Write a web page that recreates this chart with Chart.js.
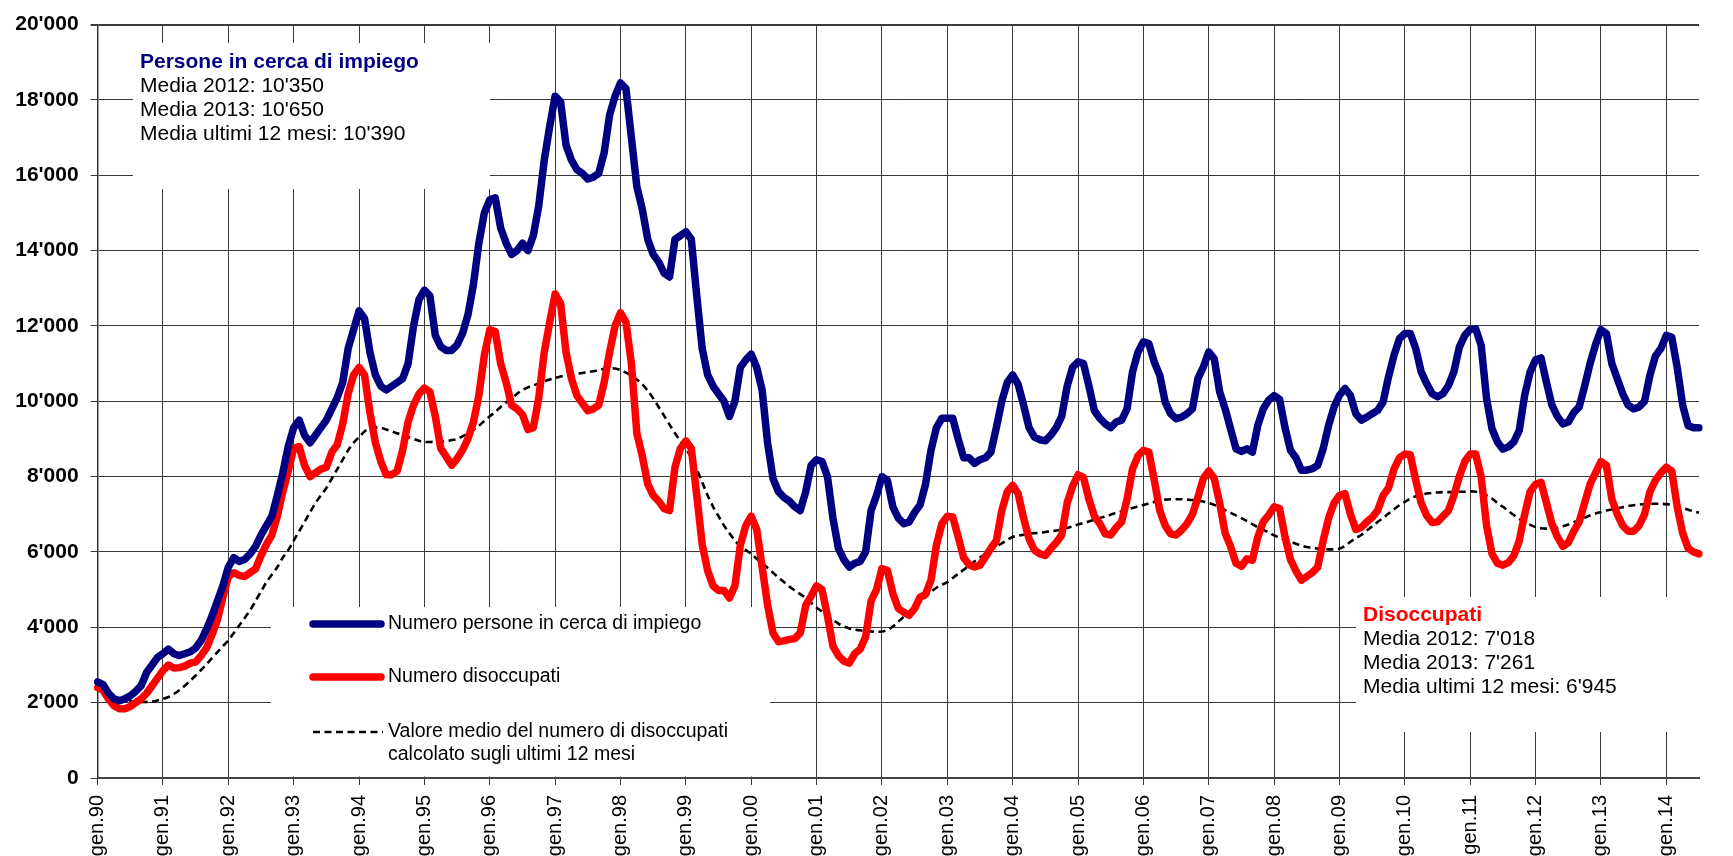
<!DOCTYPE html>
<html lang="it">
<head>
  <meta charset="UTF-8" />
  <title>Persone in cerca di impiego e disoccupati</title>
  <style>
    html, body { margin: 0; padding: 0; background: #fff; }
    #chart { display: block; }
  </style>
</head>
<body>
  <canvas id="chart" width="1733" height="856"></canvas>

  <script src="https://cdn.jsdelivr.net/npm/chart.js"></script>
  <script>
    // mesi e anni per le etichette dell'asse x
    const mesi = ['gen', 'feb', 'mar', 'apr', 'mag', 'giu', 'lug', 'ago', 'set', 'ott', 'nov', 'dic'];
    const primoAnno = 1990;

    // Numero persone in cerca di impiego (una riga per anno, gen-dic)
    const persone = [
      2550, 2480, 2250, 2100, 2050, 2100, 2180, 2300, 2450, 2800, 3000, 3200,
      3300, 3420, 3300, 3250, 3300, 3350, 3450, 3650, 3950, 4300, 4700, 5100,
      5600, 5850, 5750, 5800, 5950, 6150, 6450, 6700, 6950, 7500, 8100, 8800,
      9300, 9500, 9100, 8900, 9100, 9300, 9500, 9800, 10100, 10500, 11400, 11900,
      12400, 12200, 11300, 10700, 10400, 10300, 10400, 10500, 10600, 11000, 12000, 12700,
      12950, 12800, 11750, 11450, 11350, 11350, 11500, 11800, 12300, 13100, 14200, 15000,
      15350, 15400, 14600, 14200, 13900, 14000, 14200, 14000, 14400, 15200, 16400, 17300,
      18100, 17950, 16800, 16400, 16150, 16050, 15900, 15950, 16050, 16600, 17600, 18100,
      18450, 18300, 17000, 15700, 15100, 14300, 13900, 13700, 13400, 13300, 14300, 14400,
      14500, 14300, 12800, 11400, 10700, 10400, 10200, 10000, 9600, 10000, 10900, 11100,
      11250, 10900, 10300, 8900, 7950, 7600, 7450, 7350, 7200, 7100, 7600, 8300,
      8450, 8400, 8000, 6900, 6100, 5800, 5600, 5700, 5750, 6000, 7100, 7500,
      8000, 7900, 7200, 6900, 6750, 6800, 7050, 7250, 7800, 8700, 9300, 9550,
      9550, 9550, 9000, 8500, 8500, 8350, 8450, 8500, 8650, 9300, 10000, 10500,
      10700, 10450, 9900, 9300, 9050, 8980, 8950, 9100, 9300, 9600, 10400, 10900,
      11050, 11000, 10400, 9750, 9550, 9400, 9300, 9450, 9500, 9800, 10780, 11300,
      11580, 11530, 11040, 10690, 9980, 9670, 9540, 9580, 9670, 9800, 10600, 10910,
      11310, 11130, 10250, 9800, 9270, 8740, 8670, 8740, 8650, 9360, 9800, 10030,
      10150, 10050, 9300, 8700, 8500, 8170, 8170, 8210, 8300, 8740, 9360, 9850,
      10160, 10340, 10160, 9670, 9500, 9580, 9670, 9760, 9980, 10650, 11220, 11660,
      11800, 11800, 11400, 10780, 10470, 10200, 10120, 10200, 10420, 10780, 11440, 11750,
      11910, 11930, 11490, 10070, 9270, 8920, 8730, 8790, 8920, 9230, 10160, 10780,
      11100, 11150, 10500, 9900, 9600, 9400, 9450, 9700, 9850, 10400, 11000, 11500,
      11900, 11800, 11000, 10600, 10200, 9900, 9800, 9850, 10000, 10700, 11200, 11400,
      11750, 11700, 10900, 9900, 9350, 9300, 9300
    ];

    // Numero disoccupati
    const disoccupati = [
      2400, 2330, 2100, 1920, 1840, 1840, 1900, 2000, 2100, 2250, 2450, 2650,
      2850, 3000, 2920, 2930, 2970, 3050, 3080, 3250, 3450, 3800, 4200, 4800,
      5350, 5450, 5380, 5350, 5450, 5550, 5900, 6200, 6450, 6950, 7600, 8150,
      8750, 8800, 8300, 8000, 8100, 8200, 8250, 8650, 8850, 9400, 10200, 10700,
      10900, 10700, 9700, 8900, 8400, 8050, 8050, 8150, 8700, 9450, 9900, 10200,
      10350, 10250, 9600, 8750, 8530, 8300, 8480, 8700, 9010, 9450, 10160, 11220,
      11900, 11850, 11000, 10500, 9900, 9800, 9650, 9250, 9300, 10100, 11300, 12100,
      12850, 12600, 11300, 10600, 10150, 9950, 9750, 9800, 9900, 10500, 11300, 12000,
      12350, 12100, 11000, 9150, 8550, 7800, 7500, 7350, 7150, 7100, 8250, 8750,
      8950, 8750, 7500, 6200, 5500, 5100, 4980, 4980, 4780, 5100, 6180, 6700,
      6950, 6600, 5600, 4600, 3850, 3620, 3640, 3680, 3700, 3850, 4580, 4830,
      5100, 5000, 4300, 3500, 3250, 3100, 3050, 3300, 3420, 3750, 4700, 5000,
      5560, 5510, 4900, 4500, 4400, 4320, 4500, 4800, 4880, 5250, 6180, 6750,
      6950, 6930, 6400, 5850, 5660, 5600, 5650, 5870, 6100, 6300, 7100, 7600,
      7770, 7550, 6900, 6350, 6050, 5950, 5910, 6090, 6250, 6450, 7300, 7750,
      8050, 7980, 7400, 6950, 6750, 6480, 6450, 6650, 6800, 7400, 8200, 8550,
      8700, 8650, 7900, 7100, 6700, 6480, 6450, 6580, 6750, 7000, 7450, 7950,
      8150, 7950, 7300, 6500, 6150, 5700, 5620, 5820, 5780, 6400, 6800, 6980,
      7200, 7150, 6400, 5800, 5500, 5250, 5350, 5450, 5600, 6300, 6900, 7300,
      7500, 7550, 7000, 6600, 6650, 6800, 6920, 7100, 7500, 7700, 8200, 8500,
      8600, 8580, 7900, 7300, 6970, 6780, 6800, 6950, 7100, 7500, 8000, 8400,
      8600, 8600, 8000, 6700, 5950, 5700, 5650, 5720, 5900, 6300, 7000, 7600,
      7800, 7850, 7300, 6750, 6400, 6150, 6250, 6550, 6800, 7300, 7800, 8100,
      8400, 8300, 7400, 7000, 6700, 6550, 6550, 6700, 7000, 7600, 7900, 8100,
      8250, 8150, 7200, 6500, 6100, 6000, 5950
    ];

    // Valore medio del numero di disoccupati sugli ultimi 12 mesi
    const mediaMobile = [
      2400, 2320, 2250, 2180, 2120, 2080, 2040, 2020, 2020, 2020, 2030, 2060,
      2100, 2150, 2230, 2330, 2450, 2580, 2720, 2870, 3020, 3180, 3340, 3500,
      3650, 3850, 4050, 4250, 4450, 4700, 4950, 5200, 5400, 5600, 5850, 6050,
      6300, 6550, 6800, 7050, 7300, 7500, 7700, 7950, 8200, 8450, 8700, 8900,
      9050, 9200, 9280, 9300, 9300, 9250, 9200, 9150, 9100, 9050, 9000, 8950,
      8920, 8920, 8930, 8930, 8940, 8970, 9000, 9070, 9150, 9250, 9350, 9480,
      9600, 9720, 9850, 9970, 10070, 10200, 10300, 10370, 10420, 10480, 10530, 10580,
      10620, 10660, 10690, 10710, 10730, 10750, 10780, 10800, 10830, 10860, 10870, 10870,
      10830, 10760, 10690, 10580, 10450, 10280, 10080, 9850, 9620, 9380, 9150, 8950,
      8750, 8500, 8200, 7850, 7500, 7200, 6950, 6700, 6500, 6300, 6150, 6050,
      5950, 5820, 5700, 5580, 5450, 5320, 5200, 5080, 4980, 4880, 4780, 4650,
      4520, 4420, 4300, 4200, 4100, 4020, 3970, 3940, 3920, 3900, 3890, 3880,
      3890, 3930, 4020, 4150, 4280, 4410, 4540, 4670, 4800, 4940, 5050, 5130,
      5200, 5310, 5420, 5530, 5640, 5750, 5850, 5950, 6050, 6140, 6230, 6320,
      6400, 6430, 6460, 6490, 6500, 6510, 6530, 6550, 6570, 6600, 6640, 6680,
      6730, 6770, 6810, 6860, 6900, 6940, 6990, 7040, 7080, 7130, 7170, 7210,
      7250, 7290, 7330, 7360, 7390, 7400, 7400, 7400, 7390, 7380, 7360, 7340,
      7300, 7250, 7190, 7110, 7040, 6970, 6900, 6820, 6740, 6660, 6590, 6520,
      6440, 6380, 6320, 6270, 6220, 6170, 6130, 6110, 6090, 6080, 6070, 6070,
      6090, 6160, 6270, 6370, 6450, 6570, 6680, 6800, 6900, 7020, 7130, 7240,
      7330, 7420, 7480, 7520, 7550, 7570, 7580, 7590, 7590, 7590, 7600, 7600,
      7610, 7600, 7590, 7500, 7420, 7300, 7200, 7090, 6980, 6880, 6790, 6720,
      6660, 6630, 6620, 6620, 6640, 6680, 6730, 6790, 6850, 6910, 6970, 7020,
      7060, 7100, 7130, 7160, 7190, 7220, 7240, 7260, 7270, 7280, 7280, 7280,
      7270, 7250, 7220, 7170, 7120, 7080, 7040
    ];

    // tick dell'asse y
    const yTicks = [0, 2000, 4000, 6000, 8000, 10000, 12000, 14000, 16000, 18000, 20000];

    // testi dei riquadri
    const boxPersone = ['Persone in cerca di impiego', "Media 2012: 10'350", "Media 2013: 10'650", "Media ultimi 12 mesi: 10'390"];
    const boxDisoccupati = ['Disoccupati', "Media 2012: 7'018", "Media 2013: 7'261", "Media ultimi 12 mesi: 6'945"];
    const legendaTesti = ['Numero persone in cerca di impiego', 'Numero disoccupati', 'Valore medio del numero di disoccupati', 'calcolato sugli ultimi 12 mesi'];

    const labels = persone.map((v, i) => {
      const anno = (primoAnno + Math.floor(i / 12)) % 100;
      return mesi[i % 12] + '.' + String(anno).padStart(2, '0');
    });

    const FONT = "'Liberation Sans', Arial, sans-serif";
    const BLU = '#000080';
    const ROSSO = '#ff0000';

    function formatta(v) {
      return String(v).replace(/\B(?=(\d{3})+(?!\d))/g, "'");
    }

    // riquadri bianchi con i testi e la legenda (disegnati sopra la griglia)
    const riquadri = {
      id: 'riquadri',
      beforeDatasetsDraw(chart) {
        const c = chart.ctx;
        c.save();
        c.fillStyle = '#fff';
        c.fillRect(133, 43, 357, 146);
        c.fillRect(271, 607, 499, 169.5);
        c.fillRect(1356, 597, 377, 135);

        c.textBaseline = 'middle';
        c.textAlign = 'left';

        // persone in cerca di impiego
        c.fillStyle = BLU;
        c.font = 'bold 21px ' + FONT;
        c.fillText(boxPersone[0], 140, 62);
        c.fillStyle = '#000';
        c.font = '21px ' + FONT;
        c.fillText(boxPersone[1], 140, 86);
        c.fillText(boxPersone[2], 140, 110);
        c.fillText(boxPersone[3], 140, 134);

        // disoccupati
        c.fillStyle = ROSSO;
        c.font = 'bold 21px ' + FONT;
        c.fillText(boxDisoccupati[0], 1363, 615);
        c.fillStyle = '#000';
        c.font = '21px ' + FONT;
        c.fillText(boxDisoccupati[1], 1363, 639);
        c.fillText(boxDisoccupati[2], 1363, 663);
        c.fillText(boxDisoccupati[3], 1363, 687);

        // legenda
        c.lineCap = 'round';
        c.lineWidth = 7.5;
        c.strokeStyle = BLU;
        c.beginPath(); c.moveTo(313, 624); c.lineTo(381, 624); c.stroke();
        c.strokeStyle = ROSSO;
        c.beginPath(); c.moveTo(313, 677); c.lineTo(381, 677); c.stroke();
        c.lineCap = 'butt';
        c.lineWidth = 2.6;
        c.strokeStyle = '#000';
        c.setLineDash([7, 4.5]);
        c.beginPath(); c.moveTo(313, 732); c.lineTo(383, 732); c.stroke();
        c.setLineDash([]);

        c.fillStyle = '#000';
        c.font = '19.5px ' + FONT;
        c.fillText(legendaTesti[0], 388, 624);
        c.fillText(legendaTesti[1], 388, 677);
        c.fillText(legendaTesti[2], 388, 732);
        c.fillText(legendaTesti[3], 388, 755);
        c.restore();
      }
    };

    const ctx = document.getElementById('chart').getContext('2d');
    new Chart(ctx, {
      type: 'line',
      data: {
        labels,
        datasets: [
          {
            label: legendaTesti[0],
            data: persone,
            borderColor: BLU,
            borderWidth: 7.5,
            pointRadius: 0,
            tension: 0,
            borderJoinStyle: 'round',
            borderCapStyle: 'round'
          },
          {
            label: legendaTesti[1],
            data: disoccupati,
            borderColor: ROSSO,
            borderWidth: 7.5,
            pointRadius: 0,
            tension: 0,
            borderJoinStyle: 'round',
            borderCapStyle: 'round'
          },
          {
            label: legendaTesti[2],
            data: mediaMobile,
            borderColor: '#000',
            borderWidth: 2.6,
            borderDash: [7, 4.5],
            pointRadius: 0,
            tension: 0.3
          }
        ]
      },
      options: {
        responsive: false,
        animation: false,
        devicePixelRatio: 1,
        layout: { padding: { top: 22, right: 2, left: 0, bottom: 0 } },
        plugins: {
          legend: { display: false },
          tooltip: { enabled: false }
        },
        scales: {
          x: {
            type: 'category',
            offset: false,
            grid: {
              color: c => (c.index % 12 === 0 ? '#3a3a3a' : 'transparent'),
              lineWidth: 1,
              tickLength: 7
            },
            border: { color: '#444', width: 2 },
            ticks: {
              autoSkip: false,
              minRotation: 90,
              maxRotation: 90,
              padding: 10,
              color: '#000',
              font: { family: FONT, size: 20 },
              callback: (v, i) => (i % 12 === 0 ? labels[i] : '')
            },
            afterFit: s => { s.height = 78; }
          },
          y: {
            min: 0,
            max: 20000,
            afterBuildTicks: s => { s.ticks = yTicks.map(v => ({ value: v })); },
            grid: {
              color: '#3a3a3a',
              lineWidth: c => (c.index === yTicks.length - 1 ? 2 : 1),
              tickLength: 7
            },
            border: { color: '#333', width: 1.5 },
            ticks: {
              padding: 12,
              color: '#000',
              font: { family: FONT, size: 21, weight: 'bold' },
              callback: v => formatta(v)
            },
            afterFit: s => { s.width = 97.6; }
          }
        }
      },
      plugins: [riquadri]
    });
  </script>
</body>
</html>
